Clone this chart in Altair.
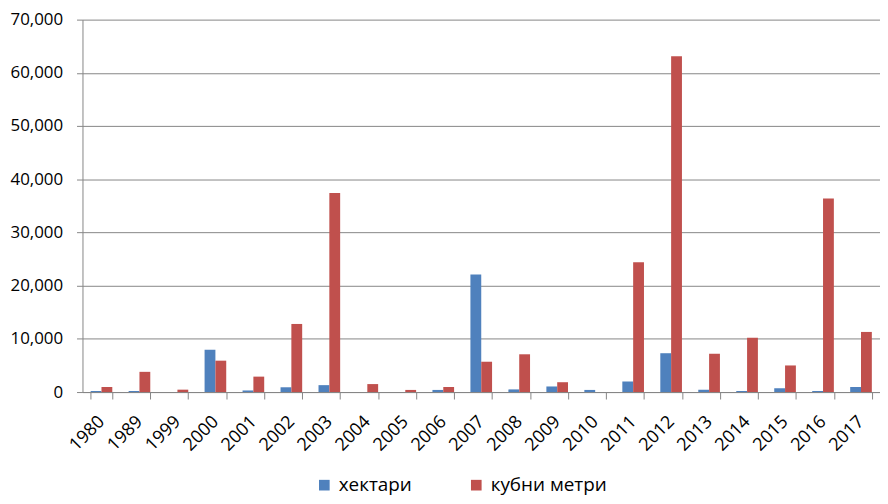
import altair as alt
import pandas as pd

years = ["1980", "1989", "1999", "2000", "2001", "2002", "2003", "2004", "2005", "2006",
         "2007", "2008", "2009", "2010", "2011", "2012", "2013", "2014", "2015", "2016", "2017"]
hectares = [200, 200, 0, 7950, 300, 900, 1300, 0, 0, 400,
            22100, 500, 1050, 400, 2000, 7300, 450, 200, 700, 200, 950]
cubic = [950, 3800, 450, 5900, 2900, 12800, 37400, 1500, 400, 950,
         5700, 7100, 1850, 0, 24400, 63100, 7200, 10200, 5000, 36400, 11300]
series_names = ["хектари", "кубни метри"]
colors = ["#4F81BD", "#C0504D"]
y_ticks = [0, 10000, 20000, 30000, 40000, 50000, 60000, 70000]

rows = []
for yr, h, c in zip(years, hectares, cubic):
    rows.append({"year": yr, "series": series_names[0], "value": h})
    rows.append({"year": yr, "series": series_names[1], "value": c})
df = pd.DataFrame(rows)

FONT = "Open Sans"
GRAY = "#868686"

chart = alt.Chart(df).mark_bar().encode(
    x=alt.X("year:N", sort=years, title=None,
            scale=alt.Scale(paddingInner=0.43, paddingOuter=0.215),
            axis=alt.Axis(labelAngle=-45, labelAlign="right", labelBaseline="middle",
                          tickBand="extent", tickSize=7,
                          domainColor=GRAY, tickColor=GRAY, labelFontSize=18,
                          labelColor="#000000", labelPadding=20, grid=False,
                          labelFont=FONT)),
    xOffset=alt.XOffset("series:N", sort=series_names,
                        scale=alt.Scale(domain=series_names)),
    y=alt.Y("value:Q", title=None,
            scale=alt.Scale(domain=[0, 70000], nice=False),
            axis=alt.Axis(values=y_ticks, format=",d", tickSize=6, tickColor=GRAY,
                          domainColor=GRAY, gridColor=GRAY, labelFontSize=17,
                          labelColor="#000000", labelPadding=14, labelFont=FONT)),
    color=alt.Color("series:N",
                    scale=alt.Scale(domain=series_names, range=colors),
                    legend=alt.Legend(title=None, orient="none", legendX=234, legendY=459,
                                      direction="horizontal", symbolType="square",
                                      symbolSize=115, symbolStrokeWidth=0,
                                      labelFontSize=19, labelFont=FONT, labelColor="#000000",
                                      columnPadding=55, labelOffset=5)),
).properties(
    width=803, height=375,
    autosize=alt.AutoSizeParams(type="none"),
    padding={"left": 75, "top": 10, "right": 0, "bottom": 110},
).configure_view(stroke=None)

chart.save("out.html", embed_options={"renderer": "svg", "actions": False})
